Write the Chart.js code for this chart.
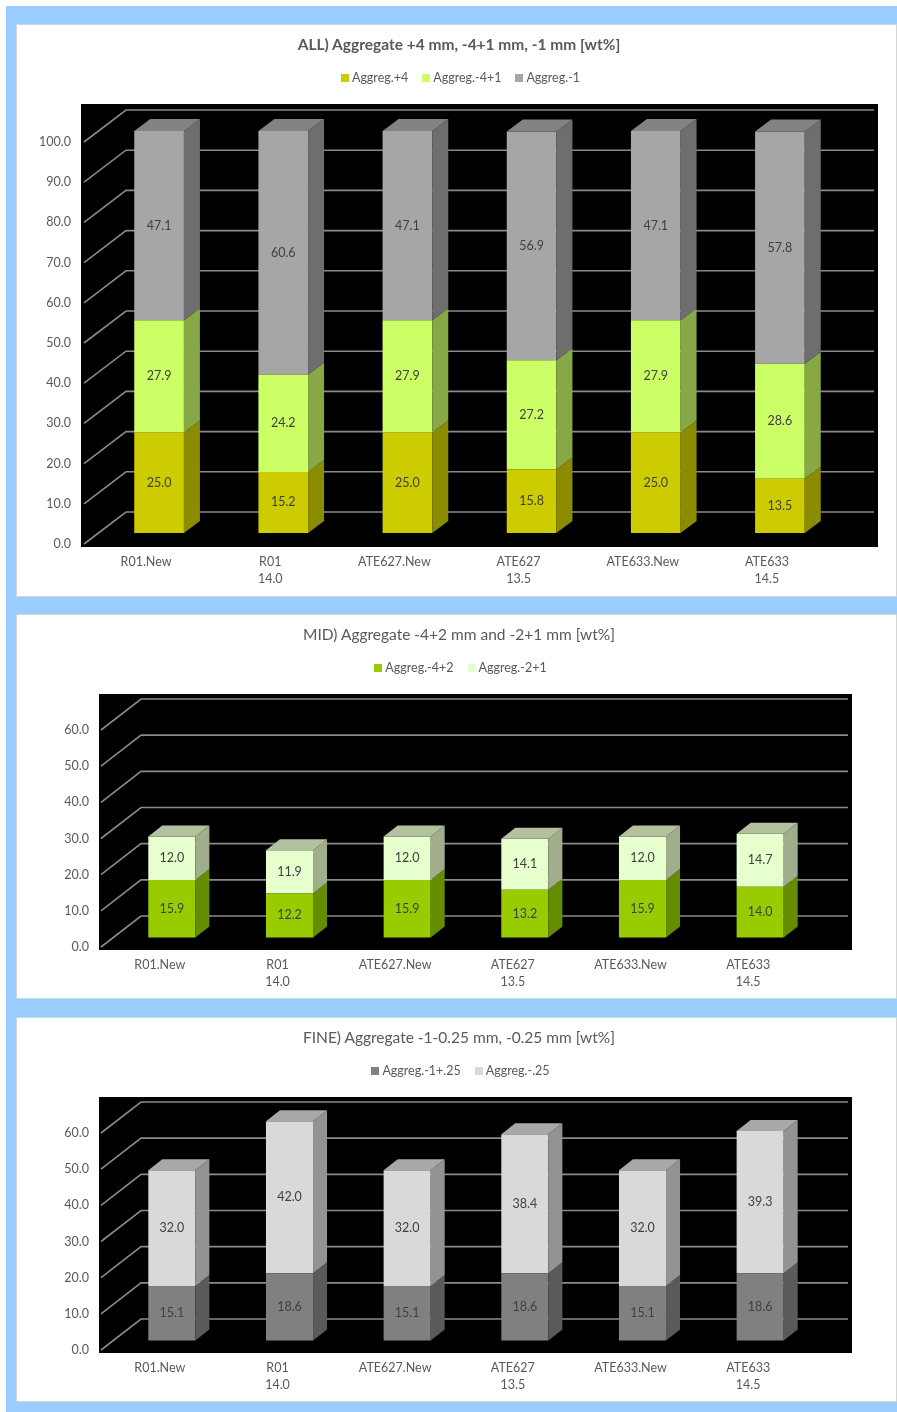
<!DOCTYPE html>
<html>
<head>
<meta charset="utf-8">
<script src="https://cdn.jsdelivr.net/npm/chart.js@4.4.1/dist/chart.umd.min.js"></script>
<style>
  body { margin: 0; background: #fff; font-family: Lato, "Noto Sans", sans-serif; }
  #bg { position: absolute; left: 6px; top: 6px; width: 891px; height: 1406px; background: #99ccff; }
  .panel { position: absolute; left: 16px; width: 881px; background: #fff; box-sizing: border-box; border: 1px solid #d4d4d4; }
  .panel canvas { position: absolute; left: 0; top: 0; }
  .title { position: absolute; left: 0; width: 100%; text-align: center; color: #595959; font-size: 15.5px; padding-left: 5px; box-sizing: border-box; }
  .legend { position: absolute; left: 0; width: 100%; text-align: center; color: #595959; font-size: 12.5px; padding-left: 8px; box-sizing: border-box; }
  .legend span { display: inline-block; margin: 0 7px; }
  .legend i { display: inline-block; width: 8px; height: 8px; margin-right: 3px; vertical-align: 0px; }
</style>
</head>
<body>
<div id="bg"></div>

<div class="panel" style="top:24px;height:573px">
  <canvas id="allChart" width="881" height="573"></canvas>
  <div class="title" style="top:10px;font-weight:bold">ALL) Aggregate +4 mm, -4+1 mm, -1 mm [wt%]</div>
  <div class="legend" id="allLegend" style="top:45px"></div>
</div>

<div class="panel" style="top:614px;height:385px">
  <canvas id="midChart" width="881" height="385"></canvas>
  <div class="title" style="top:10px">MID) Aggregate -4+2 mm and -2+1 mm [wt%]</div>
  <div class="legend" id="midLegend" style="top:45px"></div>
</div>

<div class="panel" style="top:1017px;height:385px">
  <canvas id="fineChart" width="881" height="385"></canvas>
  <div class="title" style="top:10px">FINE) Aggregate -1-0.25 mm, -0.25 mm [wt%]</div>
  <div class="legend" id="fineLegend" style="top:45px"></div>
</div>

<script>
// categories shared by the three charts
const categories = ['R01.New', ['R01', '14.0'], 'ATE627.New', ['ATE627', '13.5'], 'ATE633.New', ['ATE633', '14.5']];

// ALL) chart
const allPlus4 = [25.0, 15.2, 25.0, 15.8, 25.0, 13.5];
const allMinus4Plus1 = [27.9, 24.2, 27.9, 27.2, 27.9, 28.6];
const allMinus1 = [47.1, 60.6, 47.1, 56.9, 47.1, 57.8];

// MID) chart
const midMinus4Plus2 = [15.9, 12.2, 15.9, 13.2, 15.9, 14.0];
const midMinus2Plus1 = [12.0, 11.9, 12.0, 14.1, 12.0, 14.7];

// FINE) chart
const fineMinus1Plus025 = [15.1, 18.6, 15.1, 18.6, 15.1, 18.6];
const fineMinus025 = [32.0, 42.0, 32.0, 38.4, 32.0, 39.3];

Chart.defaults.font.family = 'Lato, "Noto Sans", sans-serif';
Chart.defaults.color = '#595959';

// fake 3D: black walls, slanted grid, bar sides and tops
const depth3d = {
  id: 'depth3d',
  beforeDraw(chart, args, o) {
    const { ctx, chartArea: a, scales: { y } } = chart;
    ctx.save();
    ctx.fillStyle = '#000';
    ctx.fillRect(a.left + o.box[0], a.top + o.box[1], a.right - a.left - o.box[0] + o.box[2], a.bottom - a.top - o.box[1] + o.box[3]);
    ctx.strokeStyle = '#8a8a8a';
    ctx.lineWidth = 1.6;
    y.ticks.forEach(t => {
      const yy = y.getPixelForValue(t.value);
      ctx.beginPath();
      ctx.moveTo(a.left, yy);
      ctx.lineTo(a.left + o.wall[0], yy + o.wall[1]);
      ctx.lineTo(a.right + o.box[2] - 4, yy + o.wall[1]);
      ctx.stroke();
    });
    ctx.restore();
  },
  beforeDatasetsDraw(chart, args, o) {
    chart.ctx.save();
    chart.ctx.translate(o.shift[0], o.shift[1]);
  },
  afterDatasetsDraw(chart, args, o) {
    const ctx = chart.ctx;
    const sets = chart.data.datasets;
    const [dx, dy] = o.depth;
    sets.forEach((ds, i) => {
      chart.getDatasetMeta(i).data.forEach(bar => {
        const { x, y, base, width } = bar.getProps(['x', 'y', 'base', 'width'], true);
        const r = x + width / 2, l = x - width / 2;
        ctx.fillStyle = ds.sideColor;
        ctx.beginPath();
        ctx.moveTo(r, y); ctx.lineTo(r + dx, y + dy); ctx.lineTo(r + dx, base + dy); ctx.lineTo(r, base);
        ctx.closePath(); ctx.fill();
        if (i === sets.length - 1) {
          ctx.fillStyle = ds.topColor;
          ctx.beginPath();
          ctx.moveTo(l, y); ctx.lineTo(l + dx, y + dy); ctx.lineTo(r + dx, y + dy); ctx.lineTo(r, y);
          ctx.closePath(); ctx.fill();
        }
      });
    });
    ctx.fillStyle = '#404040';
    ctx.font = '12.5px Lato, "Noto Sans", sans-serif';
    ctx.textAlign = 'center';
    ctx.textBaseline = 'middle';
    sets.forEach((ds, i) => {
      chart.getDatasetMeta(i).data.forEach((bar, j) => {
        const { x, y, base } = bar.getProps(['x', 'y', 'base'], true);
        ctx.fillText(ds.data[j].toFixed(1), x, (y + base) / 2);
      });
    });
    ctx.restore();
  }
};

function makeChart(id, legendId, sets, opt) {
  document.getElementById(legendId).innerHTML = sets.map(s =>
    '<span><i style="background:' + s.backgroundColor + '"></i>' + s.label + '</span>').join('');
  return new Chart(document.getElementById(id), {
    type: 'bar',
    data: {
      labels: categories,
      datasets: sets.map(s => Object.assign({ barPercentage: 0.4, categoryPercentage: 1, borderWidth: 0, clip: false }, s))
    },
    options: {
      responsive: false,
      animation: false,
      layout: { padding: { left: 0, right: opt.right, top: opt.top, bottom: 0 } },
      scales: {
        x: {
          stacked: true,
          grid: { display: false, drawTicks: false },
          border: { display: false },
          ticks: { padding: 9, font: { size: 12.5, lineHeight: 1.36 }, color: '#595959', maxRotation: 0, autoSkip: false },
          afterFit: s => { s.height = opt.xh; }
        },
        y: {
          stacked: true,
          min: 0,
          max: opt.max,
          grid: { display: false, drawTicks: false },
          border: { display: false },
          ticks: { stepSize: 10, padding: opt.tp, font: { size: 12.5 }, color: '#595959', callback: v => v.toFixed(1) },
          afterFit: s => { s.width = opt.yw; }
        }
      },
      plugins: {
        legend: { display: false },
        tooltip: { enabled: false },
        depth3d: opt.d3
      }
    },
    plugins: [depth3d]
  });
}

makeChart('allChart', 'allLegend', [
  { label: 'Aggreg.+4', data: allPlus4, backgroundColor: '#cccc00', sideColor: '#8c8c00', topColor: '#a3a300' },
  { label: 'Aggreg.-4+1', data: allMinus4Plus1, backgroundColor: '#ccff66', sideColor: '#86a845', topColor: '#a3cc52' },
  { label: 'Aggreg.-1', data: allMinus1, backgroundColor: '#a6a6a6', sideColor: '#6e6e6e', topColor: '#838383' }
], { max: 100, right: 69, top: 117, xh: 54, yw: 67, tp: 13,
     d3: { box: [-3, -38, 49, 3], wall: [42, -32], shift: [13, -11], depth: [16, -12] } });

makeChart('midChart', 'midLegend', [
  { label: 'Aggreg.-4+2', data: midMinus4Plus2, backgroundColor: '#99cc00', sideColor: '#668c00', topColor: '#7aa300' },
  { label: 'Aggreg.-2+1', data: midMinus2Plus1, backgroundColor: '#e6ffcc', sideColor: '#a0ae8c', topColor: '#b3c1a0' }
], { max: 60, right: 91, top: 115, xh: 53, yw: 84, tp: 12,
     d3: { box: [-2, -36, 45, 3], wall: [40, -31], shift: [12, -9.5], depth: [14, -11] } });

makeChart('fineChart', 'fineLegend', [
  { label: 'Aggreg.-1+.25', data: fineMinus1Plus025, backgroundColor: '#808080', sideColor: '#5a5a5a', topColor: '#6a6a6a' },
  { label: 'Aggreg.-.25', data: fineMinus025, backgroundColor: '#d9d9d9', sideColor: '#939393', topColor: '#a8a8a8' }
], { max: 60, right: 91, top: 115, xh: 53, yw: 84, tp: 12,
     d3: { box: [-2, -36, 45, 3], wall: [40, -31], shift: [12, -9.5], depth: [14, -11] } });
</script>
</body>
</html>
